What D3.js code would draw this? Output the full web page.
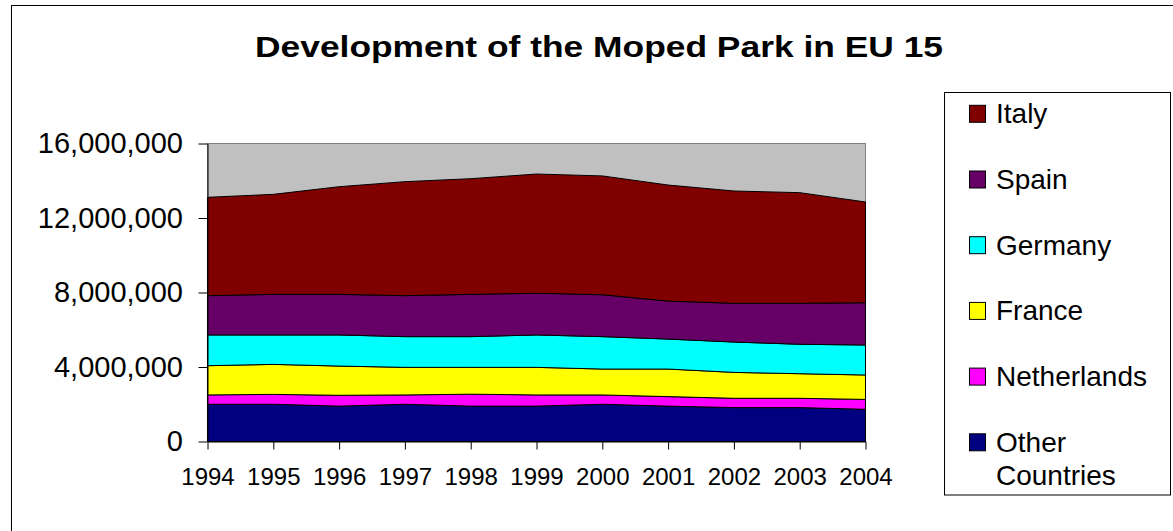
<!DOCTYPE html>
<html>
<head>
<meta charset="utf-8">
<script src="https://cdn.jsdelivr.net/npm/d3@7"></script>
<style>
  body { margin: 0; background: #fff; }
  svg { display: block; font-family: Arial, "Liberation Sans", sans-serif; }
</style>
</head>
<body>
<div id="chart"></div>
<script>
const years = ['1994', '1995', '1996', '1997', '1998', '1999', '2000', '2001', '2002', '2003', '2004']
const other = [2000000, 2000000, 1900000, 2000000, 1900000, 1900000, 2000000, 1900000, 1820000, 1820000, 1730000]
const netherlands = [500000, 530000, 580000, 500000, 640000, 600000, 500000, 510000, 500000, 500000, 530000]
const france = [1570000, 1610000, 1570000, 1480000, 1440000, 1480000, 1390000, 1480000, 1390000, 1320000, 1310000]
const germany = [1650000, 1580000, 1670000, 1650000, 1650000, 1740000, 1740000, 1610000, 1630000, 1580000, 1610000]
const spain = [2110000, 2180000, 2180000, 2200000, 2270000, 2240000, 2250000, 2040000, 2080000, 2200000, 2270000]
const italy = [5280000, 5370000, 5780000, 6120000, 6210000, 6400000, 6380000, 6230000, 6030000, 5940000, 5410000]
const yTicks = [0, 4000000, 8000000, 12000000, 16000000]

// bottom to top
const series = [
  {name: 'Other Countries', values: other, color: '#000080'},
  {name: 'Netherlands', values: netherlands, color: '#FF00FF'},
  {name: 'France', values: france, color: '#FFFF00'},
  {name: 'Germany', values: germany, color: '#00FFFF'},
  {name: 'Spain', values: spain, color: '#660066'},
  {name: 'Italy', values: italy, color: '#800000'}
]

const width = 1173
const height = 531

const svg = d3.select('#chart').append('svg')
  .attr('width', width)
  .attr('height', height)

// chart frame
svg.append('rect')
  .attr('x', 11.5).attr('y', 5.5)
  .attr('width', 1200).attr('height', 600)
  .attr('fill', '#fff').attr('stroke', '#000')

svg.append('text')
  .attr('x', 255).attr('y', 57)
  .attr('textLength', 688)
  .attr('lengthAdjust', 'spacingAndGlyphs')
  .style('font-size', '30px')
  .style('font-weight', 'bold')
  .text('Development of the Moped Park in EU 15')

const x = d3.scalePoint().domain(years).range([207.5, 865.5])
const y = d3.scaleLinear().domain([0, 16000000]).range([441.5, 143.5])

// plot area
svg.append('rect')
  .attr('x', x.range()[0]).attr('y', y(16000000))
  .attr('width', x.range()[1] - x.range()[0])
  .attr('height', y(0) - y(16000000))
  .attr('fill', '#C0C0C0').attr('stroke', '#808080')

const rows = years.map((yr, i) => {
  const r = {year: yr}
  series.forEach(s => { r[s.name] = s.values[i] })
  return r
})
const stacked = d3.stack().keys(series.map(s => s.name))(rows)

const area = d3.area()
  .x(d => x(d.data.year))
  .y0(d => y(d[0]))
  .y1(d => y(d[1]))

svg.append('g').selectAll('path')
  .data(stacked)
  .join('path')
  .attr('d', area)
  .attr('fill', (d, i) => series[i].color)
  .attr('stroke', '#000')
  .attr('stroke-width', 1)
  .attr('stroke-linejoin', 'round')

const yAxis = svg.append('g')
  .attr('transform', `translate(${x.range()[0]},0)`)
  .call(d3.axisLeft(y).tickValues(yTicks).tickFormat(d3.format(','))
    .tickSize(9).tickSizeOuter(0).tickPadding(15.5))
yAxis.selectAll('text').style('font-size', '29px').attr('fill', '#000')
  .attr('font-family', null)
yAxis.selectAll('line, path').attr('stroke', '#000')

const xAxis = svg.append('g')
  .attr('transform', `translate(0,${y(0)})`)
  .call(d3.axisBottom(x).tickSize(8).tickSizeOuter(0).tickPadding(18.5))
xAxis.selectAll('text').style('font-size', '24px').attr('fill', '#000')
  .attr('font-family', null)
xAxis.selectAll('line, path').attr('stroke', '#000')

// legend
const legend = svg.append('g')
legend.append('rect')
  .attr('x', 944.5).attr('y', 92.5)
  .attr('width', 226).attr('height', 402.5)
  .attr('fill', '#fff').attr('stroke', '#000')

const legendItems = series.slice().reverse()
const item = legend.selectAll('g.item')
  .data(legendItems)
  .join('g')
  .attr('class', 'item')
  .attr('transform', (d, i) => `translate(0,${123.3 + i * 65.7})`)

item.append('rect')
  .attr('x', 969.5).attr('y', -18)
  .attr('width', 16).attr('height', 17)
  .attr('fill', d => d.color).attr('stroke', '#000')

item.append('text')
  .attr('x', 996).attr('y', 0)
  .style('font-size', '28px')
  .each(function (d) {
    const words = d.name === 'Other Countries' ? ['Other', 'Countries'] : [d.name]
    d3.select(this).selectAll('tspan')
      .data(words)
      .join('tspan')
      .attr('x', 996)
      .attr('dy', (w, j) => j ? 33 : 0)
      .text(w => w)
  })
</script>
</body>
</html>
